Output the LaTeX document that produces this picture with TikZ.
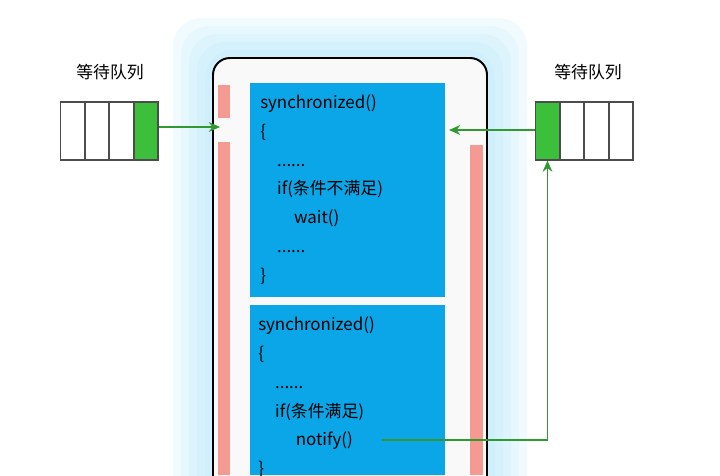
\documentclass[tikz,border=0pt]{standalone}
\usepackage{fontspec}
\setmainfont{Noto Sans CJK SC}
\usetikzlibrary{arrows.meta, positioning}
\definecolor{blu}{HTML}{0AA6E8}
\definecolor{pnk}{HTML}{F59A92}
\definecolor{grn}{HTML}{3CC03C}
\begin{document}
\begin{tikzpicture}[
	x=0.025cm, y=-0.025cm,
	cell/.style={draw=black!70, line width=0.8pt, minimum width=0.6cm, minimum height=1.45cm, inner sep=0pt, fill=white},
	code/.style={anchor=north west, align=left, inner sep=0pt, font=\fontsize{12}{20.6}\selectfont},
	flow/.style={->, >={Stealth[length=8pt, width=7pt]}, grn!80!black, line width=1pt}
]
\useasboundingbox (0,0) rectangle (720,475);
\clip (0,0) rectangle (720,475);

% glow
\foreach \g in {40,32,24,16,8}
	\fill[cyan!30, opacity=0.18, rounded corners=20] (213-\g,58-\g) rectangle (487+\g,520);
\fill[white!95!gray, draw=black, line width=1.4pt, rounded corners=12] (213,58) rectangle (487,520);
\fill[pnk] (218,85) rectangle (230,118);
\fill[pnk] (218,142) rectangle (230,475);
\fill[pnk] (470,145) rectangle (483,475);

\fill[blu] (250,83) rectangle (445,297);
\fill[blu] (250,305) rectangle (445,475);
\node[code] (c1) at (260,94)
	{synchronized()\\\{\\\quad ......\\\quad if(条件不满足)\\\qquad wait()\\\quad ......\\\}};
\node[code] (c2) at (258,316)
	{synchronized()\\\{\\\quad ......\\\quad if(条件满足)\\\qquad\ notify()\\\}};
\coordinate (nt) at (382,440);
\coordinate (in1) at (220,127);
\coordinate (in2) at (449,130);

% queues
\foreach \i in {1,...,4}
	\node[cell] (l\i) at (60+24.5*\i-12,131) {};
\node[cell, fill=grn] at (l4) {};
\foreach \i in {1,...,4}
	\node[cell] (r\i) at (535+24.5*\i-12,131) {};
\node[cell, fill=grn] at (r1) {};
\node[font=\fontsize{12}{14}\selectfont] (ql) at (110,72) {等待队列};
\node[font=\fontsize{12}{14}\selectfont] (qr) at (588,72) {等待队列};

\draw[flow] (l4.east |- in1) -- (in1);
\draw[flow] (r1.west |- in2) -- (in2);
\draw[flow] (nt) -| (r1.south);
\end{tikzpicture}
\end{document}
